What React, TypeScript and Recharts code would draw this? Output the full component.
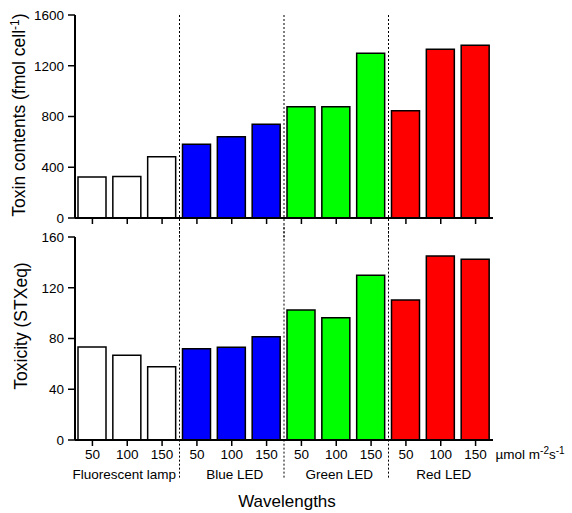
import { BarChart, Bar, XAxis, YAxis, Cell, ReferenceLine } from "recharts"

// Toxin contents and toxicity under four light sources, three intensities each

const groups = ["Fluorescent lamp", "Blue LED", "Green LED", "Red LED"]
const groupColors = ["#ffffff", "#0000ff", "#00ff00", "#ff0000"]
const doses = ["50", "100", "150"]

// fmol cell-1
const toxinContents = [323, 328, 483, 581, 641, 738, 877, 877, 1298, 846, 1330, 1361]
// STXeq
const toxicity = [73.3, 66.8, 57.8, 72, 73.1, 81.4, 102.4, 96.4, 129.8, 110.3, 145, 142.4]

const toxinTicks = [0, 400, 800, 1200, 1600]
const toxicityTicks = [0, 40, 80, 120, 160]

const FONT = "'Liberation Sans', Arial, Helvetica, sans-serif"

const rows = groups.flatMap((g, gi) =>
  doses.map((d, di) => {
    const i = gi * 3 + di
    return { key: `${g} ${d}`, group: g, dose: d, gi, toxin: toxinContents[i], toxicity: toxicity[i] }
  })
)

// ligne pointillée au début de chaque groupe (sauf le premier)
const groupStarts = groups.slice(1).map((g) => `${g} ${doses[0]}`)

const axisLine = { stroke: "#000", strokeWidth: 2 }
const tickLine = { stroke: "#000", strokeWidth: 1.5 }
const yTick = { fontSize: 13.5, fill: "#000", fontFamily: FONT }

function NoTick() {
  return <g />
}

function DoseTick(props: any) {
  const { x, y, payload } = props
  const row = rows.find((r) => r.key === payload.value)
  if (!row) return <g />
  const isLast = row.key === rows[rows.length - 1].key
  return (
    <g fontFamily={FONT} fill="#000">
      <text x={x} y={y + 11} textAnchor="middle" fontSize={13.5}>
        {row.dose}
      </text>
      {row.dose === doses[1] && (
        <text x={row.gi === 0 ? x - 3 : x + 3} y={y + 31} textAnchor="middle" fontSize={13.5}>
          {row.group}
        </text>
      )}
      {isLast && (
        <text x={x + 20} y={y + 11} fontSize={13.5}>
          <tspan>µmol m</tspan>
          <tspan dy={-5} fontSize={10}>-2</tspan>
          <tspan dy={5}>s</tspan>
          <tspan dy={-5} fontSize={10}>-1</tspan>
        </text>
      )}
    </g>
  )
}

export default function App() {
  return (
    <div style={{ position: "absolute", left: 0, top: 0, width: 572, height: 513, background: "#fff" }}>
      <div style={{ position: "absolute", left: 0, top: 0 }}>
        <BarChart
          width={572}
          height={240}
          data={rows}
          margin={{ top: 15, right: 79, bottom: 0, left: 0 }}
          barSize={28}
        >
          <XAxis
            dataKey="key"
            height={22}
            axisLine={axisLine}
            tickLine={tickLine}
            tickSize={6}
            tick={<NoTick />}
            interval={0}
          />
          <YAxis
            width={75}
            domain={[0, 1600]}
            ticks={toxinTicks}
            axisLine={axisLine}
            tickLine={tickLine}
            tickSize={7}
            tickMargin={4}
            tick={yTick}
            interval={0}
          />
          {groupStarts.map((k) => (
            <ReferenceLine
              key={k}
              segment={[{ x: k, y: 1600 }, { x: k, y: -300 }]}
              position="start"
              ifOverflow="visible"
              stroke="#000"
              strokeWidth={1}
              strokeDasharray="2 2"
            />
          ))}
          <Bar dataKey="toxin" stroke="#000" strokeWidth={1.5} isAnimationActive={false}>
            {rows.map((r) => (
              <Cell key={r.key} fill={groupColors[r.gi]} />
            ))}
          </Bar>
        </BarChart>
      </div>

      <div style={{ position: "absolute", left: 0, top: 225 }}>
        <BarChart
          width={572}
          height={288}
          data={rows}
          margin={{ top: 12, right: 79, bottom: 0, left: 0 }}
          barSize={28}
        >
          <XAxis
            dataKey="key"
            height={73}
            axisLine={axisLine}
            tickLine={tickLine}
            tickSize={6}
            tickMargin={2}
            tick={<DoseTick />}
            interval={0}
          />
          <YAxis
            width={75}
            domain={[0, 160]}
            ticks={toxicityTicks}
            axisLine={axisLine}
            tickLine={tickLine}
            tickSize={7}
            tickMargin={4}
            tick={yTick}
            interval={0}
          />
          {groupStarts.map((k) => (
            <ReferenceLine
              key={k}
              segment={[{ x: k, y: 180 }, { x: k, y: -31 }]}
              position="start"
              ifOverflow="visible"
              stroke="#000"
              strokeWidth={1}
              strokeDasharray="2 2"
            />
          ))}
          <Bar dataKey="toxicity" stroke="#000" strokeWidth={1.5} isAnimationActive={false}>
            {rows.map((r) => (
              <Cell key={r.key} fill={groupColors[r.gi]} />
            ))}
          </Bar>
        </BarChart>
      </div>

      {/* titres des axes */}
      <svg
        width={572}
        height={513}
        style={{ position: "absolute", left: 0, top: 0, pointerEvents: "none" }}
        fontFamily={FONT}
        fill="#000"
      >
        <text transform="translate(25,115) rotate(-90)" textAnchor="middle" fontSize={17.5}>
          <tspan>Toxin contents (fmol cell</tspan>
          <tspan dy={-6} fontSize={12}>-1</tspan>
          <tspan dy={6}>)</tspan>
        </text>
        <text transform="translate(27,326) rotate(-90)" textAnchor="middle" fontSize={17.5}>
          Toxicity (STXeq)
        </text>
        <text x={287} y={507} textAnchor="middle" fontSize={17}>
          Wavelengths
        </text>
      </svg>
    </div>
  )
}
